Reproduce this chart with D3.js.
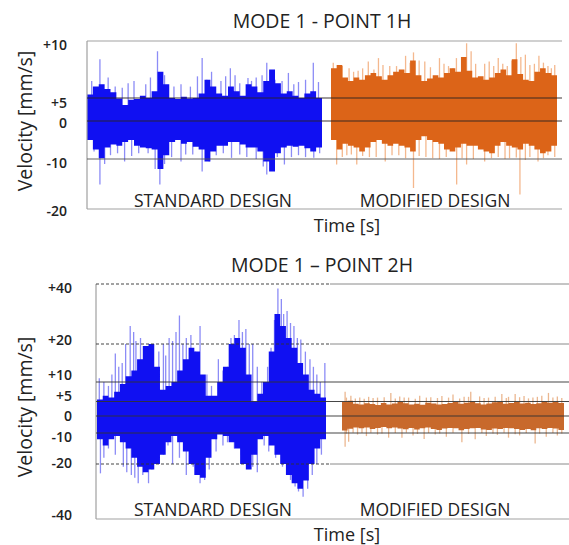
<!DOCTYPE html>
<html>
<head>
<meta charset="utf-8">
<script src="https://cdn.jsdelivr.net/npm/d3@7"></script>
<style>
  body { margin: 0; background: #fff; }
  text { font-family: "Open Sans", sans-serif; fill: #222; }
</style>
</head>
<body>
<script>
'use strict';

// ---- data: MODE 1 - POINT 1H ----
let ticks1 = [10, 5, 0, -10, -20];
let tickLabels1 = ['+10', '+5', '0', '-10', '-20'];

// core envelope (max / min per time slice) and single spikes [t, value]
let std1Hi = [5.3, 6.0, 6.2, 5.8, 5.5, 4.9, 3.5, 4.6, 4.8, 5.2, 5.0, 5.6, 7.3, 6.2, 5.0, 4.8, 5.1, 4.9, 5.0, 5.4,
              6.6, 6.0, 5.4, 5.2, 6.0, 5.6, 5.2, 6.2, 6.0, 5.5, 6.5, 7.5, 6.3, 5.4, 5.6, 5.2, 5.0, 5.4, 5.6, 5.0];
let std1Lo = [-5.0, -7.5, -9.8, -7.0, -6.2, -6.5, -5.5, -5.0, -6.5, -7.0, -7.2, -7.5, -12.0, -9.0, -5.5, -5.0, -6.0, -5.5, -6.8, -7.5,
              -10.5, -8.0, -6.5, -6.5, -5.5, -5.5, -6.2, -7.0, -7.0, -8.0, -10.5, -12.5, -8.5, -7.0, -6.5, -6.8, -6.5, -7.2, -8.0, -7.0];
let std1Spikes = [[0.055, 8.4], [0.09, 6.8], [0.15, 5.9], [0.20, 6.5], [0.25, 6.2], [0.30, 9.1], [0.33, 7.0], [0.40, 6.2],
                  [0.44, 6.0], [0.49, 8.5], [0.53, 7.3], [0.57, 6.5], [0.61, 7.6], [0.65, 6.3], [0.685, 6.75], [0.72, 6.8],
                  [0.765, 8.1], [0.80, 6.6], [0.857, 7.2], [0.90, 6.4], [0.963, 8.1],
                  [0.02, 6.5], [0.12, 6.0], [0.175, 6.3], [0.27, 6.8], [0.37, 6.0], [0.47, 6.9], [0.51, 6.6], [0.59, 6.9],
                  [0.63, 7.0], [0.70, 6.5], [0.745, 7.0], [0.78, 7.3], [0.83, 6.5], [0.88, 6.2], [0.93, 6.6], [0.985, 6.4],
                  [0.055, -15.1], [0.10, -9.0], [0.16, -10.5], [0.22, -8.5], [0.31, -15.1], [0.36, -9.5], [0.40, -10.5],
                  [0.45, -8.8], [0.49, -12.5], [0.55, -9.0], [0.615, -9.7], [0.68, -9.5], [0.72, -10.0], [0.765, -13.1],
                  [0.84, -11.1], [0.90, -9.0], [0.965, -9.7],
                  [0.03, -8], [0.075, -11], [0.13, -8.5], [0.19, -9.2], [0.26, -8.5], [0.29, -12], [0.33, -11], [0.42, -8.8],
                  [0.52, -10.5], [0.58, -8.5], [0.65, -8.8], [0.75, -11.5], [0.79, -11.0], [0.81, -9.5], [0.87, -9.5],
                  [0.93, -9.5], [0.99, -8.5]];

let mod1Hi = [7.6, 7.9, 6.8, 6.5, 6.8, 6.6, 7.0, 7.2, 6.9, 6.6, 7.0, 7.3, 7.5, 7.2, 8.3, 7.0, 6.5, 6.7, 7.0, 6.8,
              7.2, 7.6, 7.3, 8.6, 7.4, 6.8, 6.9, 6.6, 6.8, 7.2, 7.5, 7.0, 8.4, 7.1, 6.6, 6.5, 7.3, 7.6, 7.2, 7.0];
let mod1Lo = [-5.0, -7.5, -6.0, -6.5, -7.0, -8.0, -7.0, -5.5, -5.0, -6.0, -6.5, -6.0, -6.5, -7.0, -8.0, -5.0, -4.0, -5.0, -5.5, -6.0,
              -7.5, -8.0, -7.0, -6.0, -6.5, -6.5, -7.5, -8.0, -8.5, -6.5, -5.5, -6.5, -7.0, -7.5, -6.0, -6.5, -7.5, -8.5, -8.0, -6.5];
let mod1Spikes = [[0.03, 7.9], [0.08, 7.6], [0.12, 7.4], [0.165, 8.2], [0.21, 8.5], [0.26, 7.8], [0.33, 8.7], [0.365, 9.0],
                  [0.415, 8.2], [0.48, 8.5], [0.52, 7.8], [0.555, 8.5], [0.60, 9.8], [0.62, 9.1], [0.68, 8.0], [0.74, 8.5],
                  [0.78, 7.8], [0.82, 9.8], [0.86, 8.8], [0.92, 8.7], [0.975, 7.6],
                  [0.01, 8.1], [0.05, 7.8], [0.10, 7.3], [0.14, 7.6], [0.19, 7.5], [0.23, 7.9], [0.29, 7.8], [0.35, 8.1],
                  [0.39, 8.3], [0.44, 7.7], [0.50, 8.0], [0.54, 7.6], [0.58, 8.3], [0.64, 8.0], [0.70, 8.2], [0.72, 7.8],
                  [0.76, 8.0], [0.80, 8.3], [0.84, 8.6], [0.88, 7.9], [0.90, 8.0], [0.94, 8.1], [0.96, 7.8], [0.99, 7.9],
                  [0.025, -11.1], [0.07, -9.0], [0.114, -11.1], [0.17, -9.5], [0.24, -10.5], [0.30, -9.0], [0.365, -15.8],
                  [0.42, -9.5], [0.48, -10.0], [0.556, -15.1], [0.60, -11.1], [0.68, -10.5], [0.74, -9.5], [0.79, -9.8],
                  [0.836, -17.1], [0.88, -9.5], [0.916, -10.5], [0.96, -9.0],
                  [0.05, -9.5], [0.09, -8.8], [0.14, -9.2], [0.20, -9.5], [0.27, -9.0], [0.33, -9.8], [0.39, -9.2],
                  [0.45, -9.8], [0.51, -9.5], [0.58, -9.8], [0.63, -10.0], [0.71, -9.8], [0.77, -10.0], [0.82, -9.6],
                  [0.86, -10.2], [0.94, -9.8], [0.99, -9.5]];

// ---- data: MODE 1 - POINT 2H ----
let ticks2 = [40, 20, 10, 5, 0, -10, -20, -40];
let tickLabels2 = ['+40', '+20', '+10', '+5', '0', '-10', '-20', '-40'];
let dashed2 = [40, 20, -20];

let std2Hi = [5.5, 6.5, 6.0, 7.5, 9.5, 11.5, 13, 16, 19.5, 20, 14, 8, 9, 10, 13, 16, 19, 18, 12, 6.5,
              6.5, 10, 14, 20, 22, 19, 12, 5, 7, 10, 18, 30, 26, 22, 19, 15, 12, 8, 7, 6];
let std2Lo = [-12, -14, -12, -11, -13, -15, -18, -21, -23, -22, -20, -17, -13, -11, -13, -16, -20, -24, -25, -18,
              -12, -10.5, -11, -13, -15, -20, -22, -17, -12, -11, -14, -17, -20, -24, -27, -29, -26, -20, -15, -12];
let std2Spikes = [[0.01, 11], [0.03, 10], [0.08, 17.5], [0.11, 15], [0.145, 26], [0.17, 21], [0.19, 22], [0.22, 18],
                  [0.25, 12], [0.27, 18], [0.30, 17], [0.33, 21], [0.36, 29.5], [0.39, 22], [0.41, 23], [0.45, 26],
                  [0.48, 12], [0.53, 16], [0.57, 14], [0.60, 23], [0.62, 28], [0.65, 25], [0.68, 20], [0.72, 10],
                  [0.76, 19], [0.79, 38.5], [0.805, 35], [0.83, 31], [0.86, 26], [0.89, 21.5], [0.93, 16], [0.96, 12], [0.995, 15],
                  [0.05, 9], [0.065, 12], [0.095, 14], [0.125, 20], [0.16, 24], [0.205, 16], [0.235, 12], [0.29, 20],
                  [0.315, 22], [0.345, 24], [0.375, 20], [0.43, 18], [0.50, 9], [0.55, 13], [0.585, 22], [0.635, 24],
                  [0.665, 20], [0.70, 14], [0.745, 14], [0.775, 28], [0.815, 30], [0.845, 27], [0.875, 22], [0.91, 18],
                  [0.945, 14], [0.975, 10],
                  [0.015, -23.4], [0.05, -15], [0.115, -21], [0.15, -24], [0.18, -27], [0.225, -27], [0.26, -18], [0.31, -14],
                  [0.36, -18], [0.42, -21], [0.47, -25.8], [0.52, -16], [0.57, -13], [0.63, -17], [0.68, -21], [0.73, -14],
                  [0.78, -18], [0.845, -25.8], [0.865, -28.2], [0.90, -31.9], [0.94, -24], [0.98, -17],
                  [0.03, -18], [0.08, -17], [0.13, -23], [0.165, -25], [0.20, -24], [0.24, -22], [0.29, -17], [0.33, -20],
                  [0.39, -24], [0.45, -27], [0.49, -22], [0.55, -14], [0.60, -15], [0.66, -20], [0.70, -23], [0.75, -16],
                  [0.81, -21], [0.83, -24], [0.88, -30], [0.92, -29], [0.96, -20]];

let mod2Hi = [4.8, 5.2, 4.2, 4.0, 4.4, 4.1, 3.8, 4.5, 4.0, 4.3, 4.9, 4.4, 4.0, 4.2, 3.9, 4.6, 4.3, 4.0, 4.1, 4.5,
              4.8, 4.2, 4.6, 5.0, 4.4, 4.0, 4.3, 4.7, 4.9, 4.2, 4.5, 4.8, 4.3, 4.6, 4.1, 4.4, 5.0, 4.6, 4.8, 4.5];
let mod2Lo = [-8.5, -7.5, -6.8, -7.2, -6.8, -7.6, -7.0, -6.5, -7.2, -6.8, -7.4, -7.8, -7.0, -8.0, -7.2, -6.8, -7.6, -8.2, -7.4, -7.0,
              -7.2, -8.4, -7.6, -7.2, -7.0, -8.0, -8.2, -7.4, -7.6, -7.0, -7.2, -7.6, -8.2, -7.6, -8.4, -7.2, -7.6, -7.0, -7.4, -8.2];
let mod2Spikes = [[0.014, 7.5], [0.04, 6.5], [0.08, 6.0], [0.12, 6.2], [0.16, 6.0], [0.22, 7.2], [0.26, 6.3], [0.30, 6.0],
                  [0.35, 6.5], [0.40, 6.1], [0.45, 6.4], [0.50, 6.8], [0.55, 6.2], [0.58, 7.5], [0.62, 6.3], [0.66, 6.0],
                  [0.72, 6.9], [0.75, 6.2], [0.78, 6.9], [0.82, 6.4], [0.86, 6.0], [0.90, 6.5], [0.93, 7.2], [0.97, 6.3],
                  [0.02, 6.0], [0.06, 5.8], [0.10, 5.7], [0.14, 5.9], [0.19, 6.1], [0.24, 5.8], [0.28, 6.0], [0.33, 5.7],
                  [0.38, 6.0], [0.43, 5.9], [0.48, 6.0], [0.53, 5.8], [0.57, 6.2], [0.64, 5.9], [0.69, 6.2], [0.74, 5.9],
                  [0.80, 6.1], [0.84, 5.8], [0.88, 6.2], [0.95, 6.0], [0.99, 5.9],
                  [0.014, -14.4], [0.03, -12.8], [0.07, -10.5], [0.11, -11], [0.16, -10.5], [0.21, -11.5], [0.27, -11.5],
                  [0.32, -10.8], [0.37, -11.9], [0.42, -10.5], [0.47, -11.2], [0.54, -13], [0.60, -12], [0.65, -11],
                  [0.70, -10.6], [0.75, -11.5], [0.80, -10.8], [0.87, -13.4], [0.92, -11.2], [0.97, -10.8],
                  [0.02, -10.2], [0.05, -9.8], [0.09, -10.0], [0.13, -9.8], [0.18, -10.2], [0.24, -10.0], [0.29, -9.8],
                  [0.34, -10.3], [0.39, -10.0], [0.44, -10.2], [0.50, -9.9], [0.57, -10.3], [0.63, -10.0], [0.68, -10.2],
                  [0.73, -9.8], [0.78, -10.4], [0.83, -10.0], [0.89, -10.2], [0.95, -10.0], [0.99, -10.2]];

let designLabels = ['STANDARD DESIGN', 'MODIFIED DESIGN'];

// ---- layout ----
let width = 569, height = 545;

let svg = d3.select('body').append('svg')
    .attr('width', width)
    .attr('height', height);

let blue = '#1010f2', blueLight = '#8c8cf6';
let orange1 = '#dc6418', orange1Light = '#f4b88e';
let orange2 = '#c8692c', orange2Light = '#ebb790';

let panel1 = {
    title: 'MODE 1 - POINT 1H',
    titleY: 28,
    ticks: ticks1,
    labels: tickLabels1,
    labelNudge: [4, 5, 2, 4, 2],
    yRange: [41, 98, 121, 159, 209],
    left: 87, right: 562,
    split: 326,
    dashed: [],
    axisMid: 121,
    designY: 207,
    timeY: 232,
    series: [
        {hi: std1Hi, lo: std1Lo, spikes: std1Spikes, x: [87, 322], color: blue, light: blueLight},
        {hi: mod1Hi, lo: mod1Lo, spikes: mod1Spikes, x: [331, 557], color: orange1, light: orange1Light}
    ],
    labelX: 67,
    gridColor: function(v) { return (v === 10 || v === -20) ? '#9a9a9a' : (v === -10 ? '#555' : '#2a2222'); }
};

let panel2 = {
    title: 'MODE 1 \u2013 POINT 2H',
    titleY: 272,
    ticks: ticks2,
    labels: tickLabels2,
    labelNudge: [4, -4, -7, -5, 0, 4, -1, -4],
    yRange: [284, 344, 382, 401.5, 416, 433, 464, 519],
    left: 96, right: 569,
    split: 330,
    dashed: dashed2,
    axisMid: 407,
    designY: 516,
    timeY: 541,
    series: [
        {hi: std2Hi, lo: std2Lo, spikes: std2Spikes, x: [97, 326], color: blue, light: blueLight},
        {hi: mod2Hi, lo: mod2Lo, spikes: mod2Spikes, x: [342, 564], color: orange2, light: orange2Light}
    ],
    labelX: 72,
    gridColor: function(v) { return (v === -40) ? '#9a9a9a' : '#333'; }
};

drawPanel(panel1);
drawPanel(panel2);

function drawPanel(p) {
    let g = svg.append('g');

    let yScale = d3.scaleLinear()
        .domain(p.ticks)
        .range(p.yRange);

    // signals
    p.series.forEach((s) => drawSignal(g, yScale, s));

    // frame: left border
    g.append('line')
        .attr('x1', p.left).attr('x2', p.left)
        .attr('y1', yScale(p.ticks[0])).attr('y2', yScale(p.ticks[p.ticks.length - 1]))
        .attr('stroke', '#a0a0a0')
        .attr('stroke-width', 1.2);

    // grid lines, drawn over the signals
    p.ticks.forEach((v) => {
        let yy = yScale(v);
        let isDashed = p.dashed.indexOf(v) >= 0;
        g.append('line')
            .attr('x1', p.left).attr('x2', isDashed ? p.split : p.right)
            .attr('y1', yy).attr('y2', yy)
            .attr('stroke', p.gridColor(v))
            .attr('stroke-width', 1.1)
            .attr('stroke-dasharray', isDashed ? '3,2' : null)
            .attr('opacity', 0.9);
        if (isDashed) {
            g.append('line')
                .attr('x1', p.split).attr('x2', p.right)
                .attr('y1', yy).attr('y2', yy)
                .attr('stroke', '#8a8a8a')
                .attr('stroke-width', 1);
        }
    });

    // tick labels
    g.selectAll(null)
        .data(p.ticks)
        .enter()
        .append('text')
        .attr('x', p.labelX)
        .attr('y', (v, i) => yScale(v) + p.labelNudge[i])
        .attr('dy', '0.35em')
        .attr('text-anchor', 'end')
        .style('font-size', '14px')
        .style('font-weight', 600)
        .text((v, i) => p.labels[i]);

    // title
    g.append('text')
        .attr('x', 322)
        .attr('y', p.titleY)
        .attr('text-anchor', 'middle')
        .style('font-size', '19.5px')
        .text(p.title);

    // design labels under each signal
    g.selectAll(null)
        .data(p.series)
        .enter()
        .append('text')
        .attr('x', (s, i) => i === 0 ? 213 : 435)
        .attr('y', p.designY)
        .attr('text-anchor', 'middle')
        .style('font-size', '17.5px')
        .text((s, i) => designLabels[i]);

    // axis titles
    g.append('text')
        .attr('x', 347)
        .attr('y', p.timeY)
        .attr('text-anchor', 'middle')
        .style('font-size', '18px')
        .text('Time [s]');

    g.append('text')
        .attr('transform', 'translate(32,' + p.axisMid + ')rotate(-90)')
        .attr('text-anchor', 'middle')
        .style('font-size', '19.5px')
        .text('Velocity [mm/s]');
}

function drawSignal(g, yScale, s) {
    let n = s.hi.length;
    let xScale = d3.scaleLinear().domain([0, 1]).range(s.x);

    // thin spikes behind the core
    g.selectAll(null)
        .data(s.spikes)
        .enter()
        .append('line')
        .attr('x1', (d) => xScale(d[0]))
        .attr('x2', (d) => xScale(d[0]))
        .attr('y1', yScale(0))
        .attr('y2', (d) => yScale(d[1]))
        .attr('stroke', s.light)
        .attr('stroke-width', 1.3);

    let pts = s.hi.map((h, i) => ({t: i / n, hi: h, lo: s.lo[i]}));
    pts.push({t: 1, hi: s.hi[n - 1], lo: s.lo[n - 1]});

    let area = d3.area()
        .x((d) => xScale(d.t))
        .y0((d) => yScale(d.lo))
        .y1((d) => yScale(d.hi))
        .curve(d3.curveStepAfter);

    g.append('path')
        .datum(pts)
        .attr('d', area)
        .attr('fill', s.color);
}
</script>
</body>
</html>
